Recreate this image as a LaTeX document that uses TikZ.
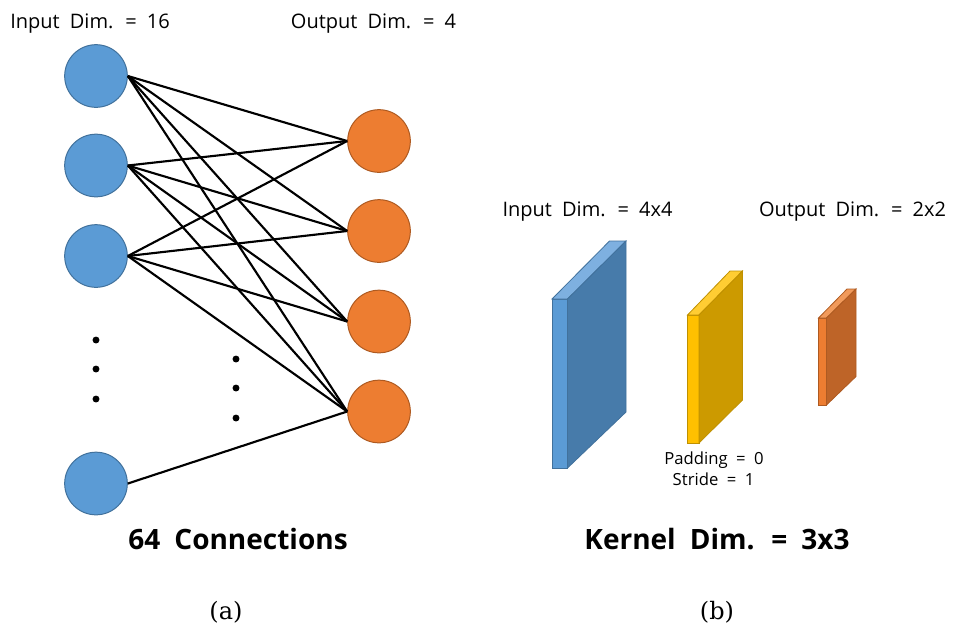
\documentclass[tikz,border=0pt]{standalone}
\usepackage{fontspec}
\setsansfont{Open Sans}[WordSpace=1.95]
\newfontfamily\subfont{DejaVu Serif}
\definecolor{inblue}{HTML}{5B9BD5}
\definecolor{inblueline}{HTML}{41719C}
\definecolor{outorange}{HTML}{ED7D31}
\definecolor{outorangeline}{HTML}{AE5A21}
\definecolor{blueside}{HTML}{477BAA}
\definecolor{bluetop}{HTML}{7EB0E0}
\definecolor{yelfront}{HTML}{FFC000}
\definecolor{yelside}{HTML}{CC9A00}
\definecolor{yeltop}{HTML}{FFCD33}
\definecolor{yelline}{HTML}{BF9000}
\definecolor{orside}{HTML}{BE6428}
\definecolor{ortop}{HTML}{F19A5B}
\tikzset{
  neuronin/.style={circle, draw=inblueline, fill=inblue, line width=0.75pt, minimum size=47pt, inner sep=0pt},
  neuronout/.style={circle, draw=outorangeline, fill=outorange, line width=0.75pt, minimum size=47pt, inner sep=0pt},
  dimlabel/.style={anchor=base, font=\sffamily\fontsize{15}{18}\selectfont},
  titlelabel/.style={anchor=base, font=\sffamily\bfseries\fontsize{21}{24}\selectfont},
  sublabel/.style={anchor=base, font=\subfont\fontsize{18}{21}\selectfont},
  smalllabel/.style={anchor=base, font=\sffamily\fontsize{12.5}{15}\selectfont},
  conn/.style={line width=1.6pt, black},
}
\begin{document}
\begin{tikzpicture}[x=0.75pt, y=-0.75pt]
\useasboundingbox (0, 0) rectangle (955, 626);
% (a) fully connected
\node[dimlabel](inlabel) at (90, 28.5) {Input Dim. = 16};
\node[dimlabel](outlabel) at (373.5, 28.5) {Output Dim. = 4};
\node[neuronin](in1) at (96, 76) {};
\node[neuronin](in2) at (96, 165.5) {};
\node[neuronin](in3) at (96, 256) {};
\node[neuronin](in4) at (96, 483.5) {};
\node[neuronout](out1) at (379, 141) {};
\node[neuronout](out2) at (379, 231) {};
\node[neuronout](out3) at (379, 321.5) {};
\node[neuronout](out4) at (379, 411.5) {};
\foreach \i in {1,2,3} {
  \foreach \j in {1,2,3,4} {
    \draw[conn] (in\i.east) -- (out\j.west);
  }
}
\draw[conn] (in4.east) -- (out4.west);
\foreach \y in {340, 369, 399} {
  \fill (96, \y) circle (2.6pt);
}
\foreach \y in {359, 388, 418} {
  \fill (236, \y) circle (2.6pt);
}
\node[titlelabel](conns) at (238, 549) {64 Connections};
\node[sublabel](suba) at (226, 619) {(a)};
% (b) convolution
\node[dimlabel](cinlabel) at (587.5, 216.7) {Input Dim. = 4x4};
\node[dimlabel](coutlabel) at (852.5, 216.7) {Output Dim. = 2x2};
% input slab
\filldraw[fill=inblue, draw=inblueline, line width=0.6pt] (552, 299) -- (567.5, 299) -- (567.5, 468) -- (552, 468) -- cycle;
\filldraw[fill=bluetop, draw=inblueline, line width=0.6pt] (552, 299) -- (609.5, 241) -- (626, 241) -- (567.5, 299) -- cycle;
\filldraw[fill=blueside, draw=inblueline, line width=0.6pt] (567.5, 299) -- (626, 241) -- (626, 412) -- (567.5, 468) -- cycle;
% kernel slab
\filldraw[fill=yelfront, draw=yelline, line width=0.6pt] (687.5, 315) -- (699, 315) -- (699, 443) -- (687.5, 443) -- cycle;
\filldraw[fill=yeltop, draw=yelline, line width=0.6pt] (687.5, 315) -- (730, 271) -- (742.5, 271) -- (699, 315) -- cycle;
\filldraw[fill=yelside, draw=yelline, line width=0.6pt] (699, 315) -- (742.5, 271) -- (742.5, 400) -- (699, 443) -- cycle;
% output slab
\filldraw[fill=outorange, draw=outorangeline, line width=0.6pt] (818.5, 318) -- (826.5, 318) -- (826.5, 405) -- (818.5, 405) -- cycle;
\filldraw[fill=ortop, draw=outorangeline, line width=0.6pt] (818.5, 318) -- (847, 289) -- (856, 289) -- (826.5, 318) -- cycle;
\filldraw[fill=orside, draw=outorangeline, line width=0.6pt] (826.5, 318) -- (856, 289) -- (856, 376.5) -- (826.5, 405) -- cycle;
\node[smalllabel](padding) at (714, 464) {Padding = 0};
\node[smalllabel](stride) at (713.5, 485) {Stride = 1};
\node[titlelabel](kernel) at (717, 549) {Kernel Dim. = 3x3};
\node[sublabel](subb) at (717, 619) {(b)};
\end{tikzpicture}
\end{document}
